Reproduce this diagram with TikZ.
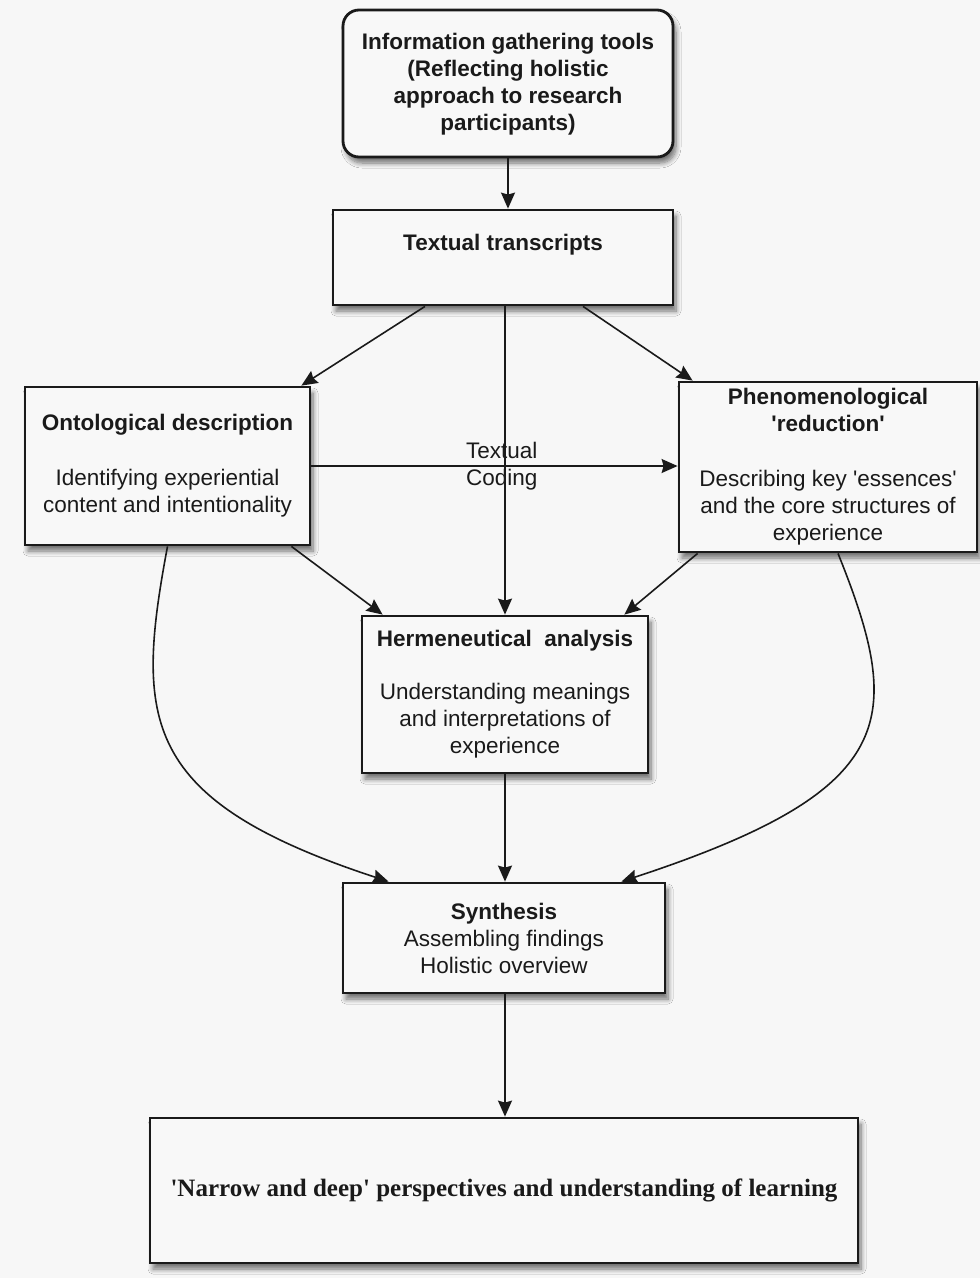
\documentclass[tikz,border=0pt]{standalone}
\usepackage{fontspec}
\setmainfont{Liberation Sans}
\newfontfamily\finfont{Liberation Serif}
\usetikzlibrary{shadows.blur,arrows.meta,calc}
\definecolor{bg}{HTML}{F7F7F7}
\definecolor{boxfill}{HTML}{F8F8F8}
\definecolor{ink}{HTML}{1A1A1A}
\newcommand{\sq}{\textquotesingle}
\begin{document}
\begin{tikzpicture}[x=1pt,y=-1pt,
  box/.style={draw=ink,line width=2.8pt,fill=boxfill,inner sep=0pt,
    blur shadow={shadow xshift=3pt,shadow yshift=-6pt,shadow blur radius=5pt,shadow blur steps=8,shadow opacity=55}},
  txt/.style={align=center,inner sep=0pt,text=ink,font=\fontsize{22.5}{27}\selectfont},
  btxt/.style={txt,font=\fontsize{22.5}{27}\selectfont\bfseries},
  conn/.style={line width=1.6pt,draw=ink,-{Stealth[length=16pt,width=14pt,inset=2pt]}}]
\path[use as bounding box,fill=bg] (0,0) rectangle (980,1278);

% boxes
\node[box,rounded corners=16pt,minimum width=330pt,minimum height=147pt] (info) at (508,83.5) {};
\node[box,minimum width=340pt,minimum height=95pt] (tt) at (503,257.5) {};
\node[box,minimum width=285pt,minimum height=158pt] (onto) at (167.5,466) {};
\node[box,minimum width=298pt,minimum height=170pt] (phen) at (828,467) {};
\node[box,minimum width=286pt,minimum height=157pt] (herm) at (505,694.5) {};
\node[box,minimum width=322pt,minimum height=110pt] (syn) at (504,938) {};
\node[box,minimum width=708pt,minimum height=145pt] (fin) at (504,1190.5) {};

% texts
\node[btxt] (infot) at (508,84) {Information gathering tools\\(Reflecting holistic\\approach to research\\participants)};
\node[btxt] (ttt) at (503,245) {Textual transcripts};
\node[txt] (ontot) at (167.5,466) {\textbf{Ontological description}\\[28pt]Identifying experiential\\content and intentionality};
\node[txt] (phent) at (828,467) {\textbf{Phenomenological}\\\textbf{\sq reduction\sq}\\[28pt]Describing key \sq essences\sq\\and the core structures of\\experience};
\node[txt] (hermt) at (505,694) {\textbf{Hermeneutical\ \ analysis}\\[26pt]Understanding meanings\\and interpretations of\\experience};
\node[txt] (synt) at (504,938) {\textbf{Synthesis}\\Assembling findings\\Holistic overview};
\node[inner sep=0pt,text=ink,font=\finfont\fontsize{25}{29}\selectfont\bfseries] (fint) at (504,1190) {\sq Narrow and deep\sq\ perspectives and understanding of learning};

% connectors
\draw[conn] (info.south) -- (info.south |- tt.north);
\draw[conn] ([xshift=-78pt]tt.south) -- ([xshift=-10pt]onto.north east);
\draw[conn] ([xshift=80pt]tt.south) -- ([xshift=15pt]phen.north west);
\draw[conn] ([xshift=2pt]tt.south) -- ([xshift=2pt]tt.south |- herm.north);
\draw[conn] (onto.east) -- (onto.east -| phen.west)
  node[txt,pos=0.52] (lbl) {Textual\\Coding};
\draw[conn] ([xshift=-20pt]onto.south east) -- ([xshift=22pt]herm.north west);
\draw[conn] ([xshift=20pt]phen.south west) -- ([xshift=-25pt]herm.north east);
\draw[conn] (onto.south) .. controls (135,720) and (140,800) .. ([xshift=47pt]syn.north west);
\draw[conn] ([xshift=10pt]phen.south) .. controls (905,720) and (900,790) .. ([xshift=-45pt]syn.north east);
\draw[conn] (herm.south) -- (herm.south |- syn.north);
\draw[conn] ([xshift=1pt]syn.south) -- ([xshift=1pt]syn.south |- fin.north);
\end{tikzpicture}
\end{document}
